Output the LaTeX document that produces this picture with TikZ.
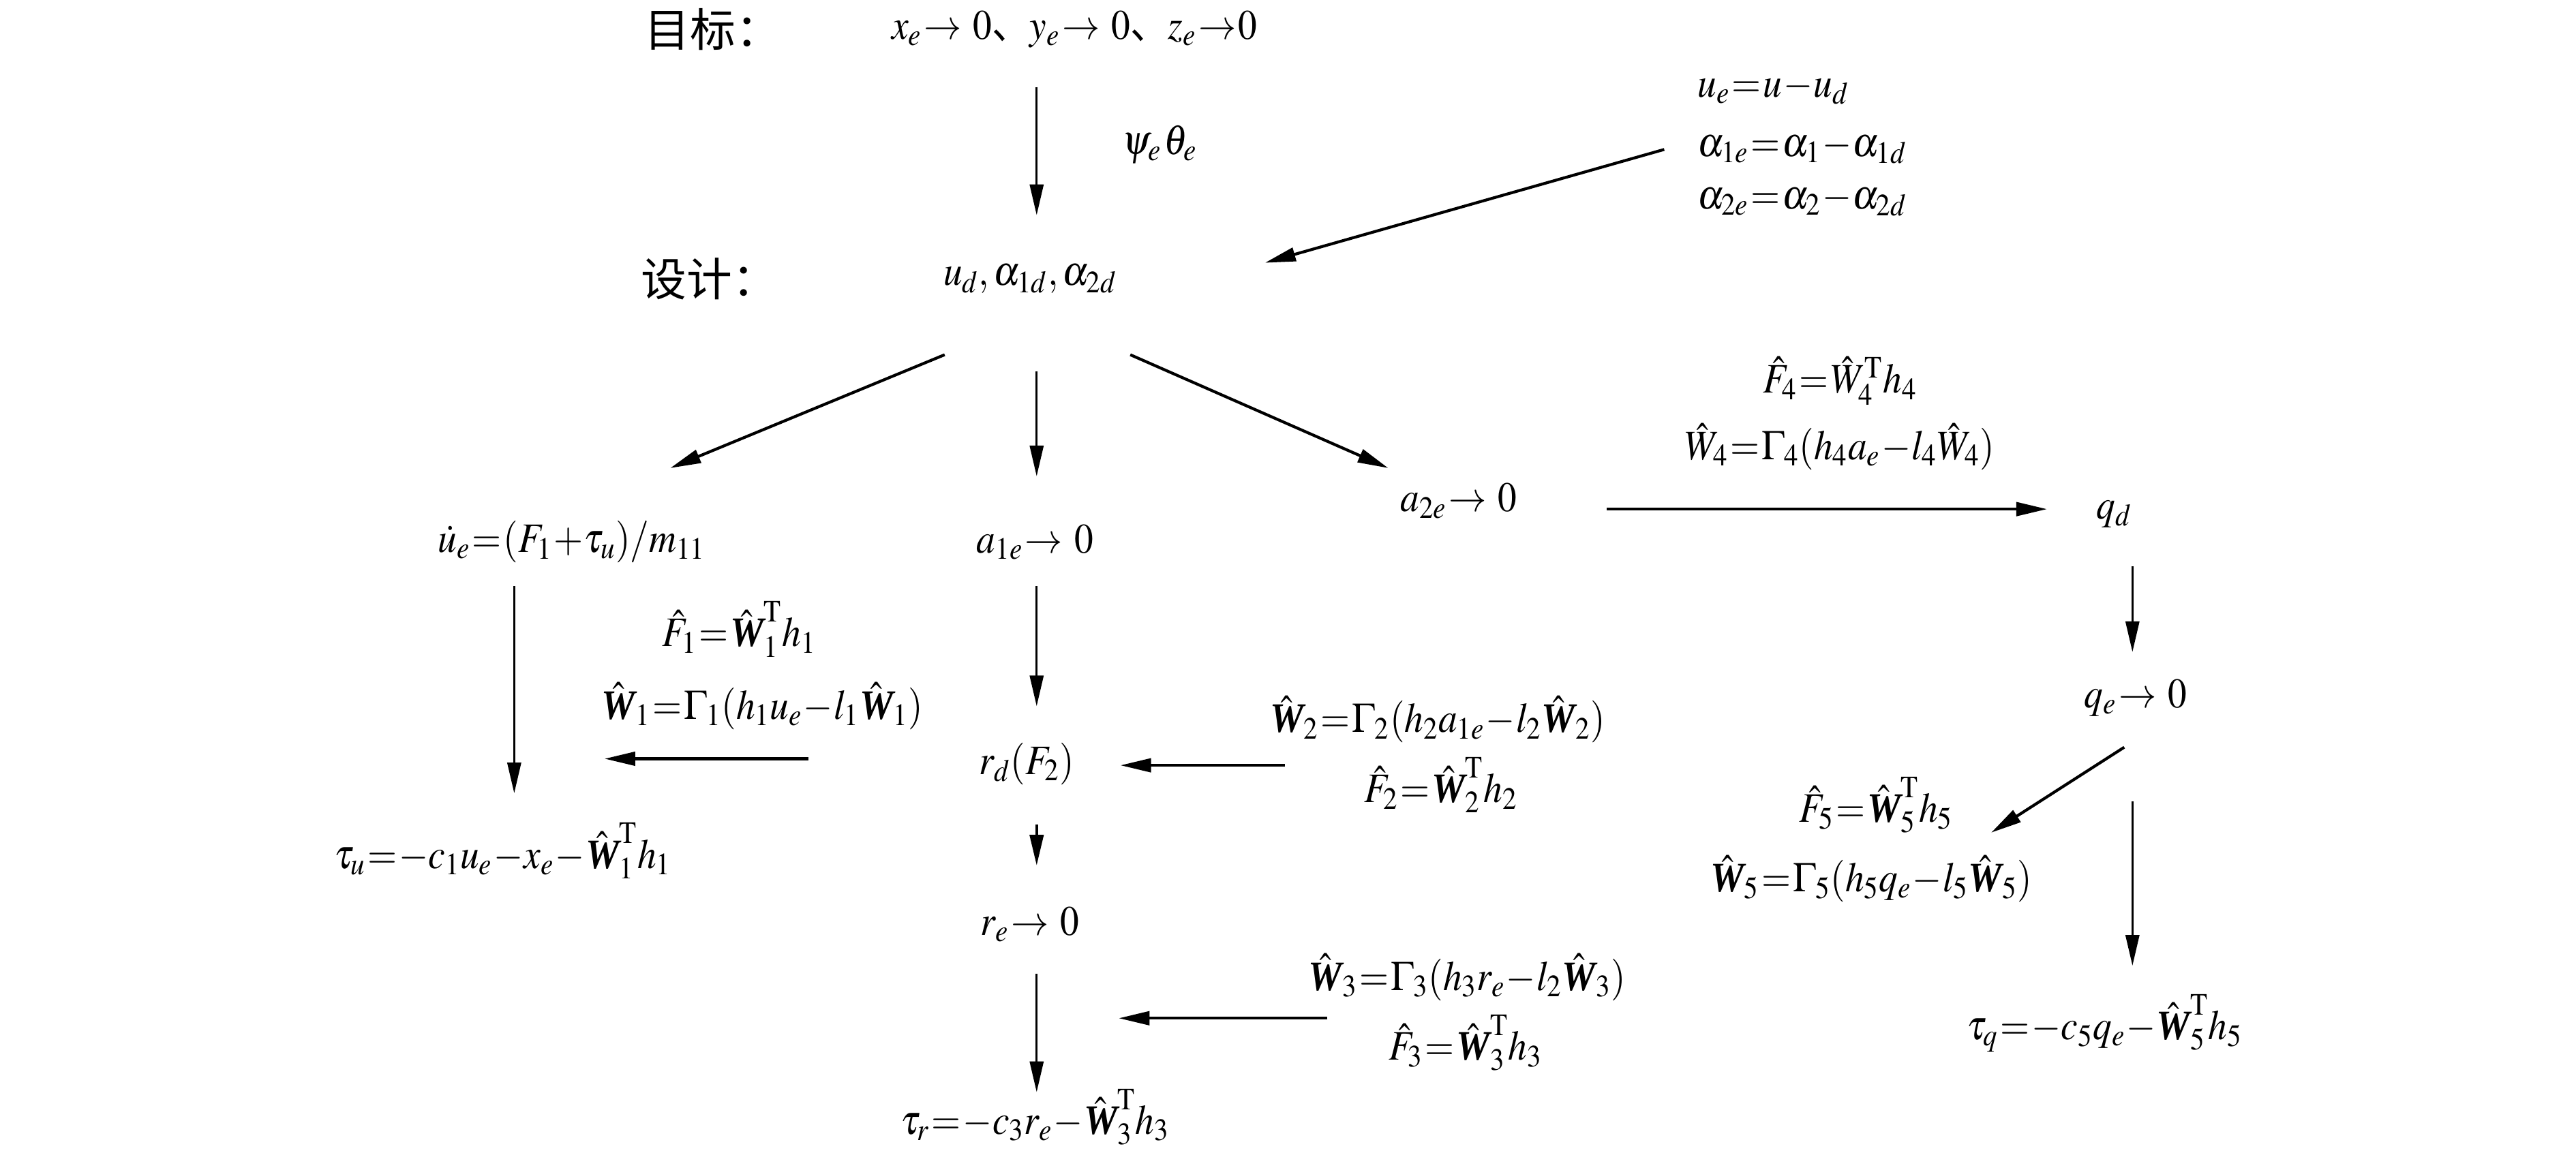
\documentclass[tikz,border=0pt]{standalone}
\usepackage{amsmath}
\usepackage{graphicx}
\usepackage{mathptmx}
\usepackage{fontspec}
\setmainfont{Liberation Serif}
\newfontfamily\cjk{Noto Sans CJK SC}
\usetikzlibrary{arrows.meta,calc}
\newcommand{\bW}{\text{\bfseries\itshape W}}
\newcommand{\Wh}{\hat{\bW}}
\newcommand{\myT}{^{\mathrm{T}}}
\newcommand{\sq}[1]{\scalebox{0.9}[1]{$#1$}}
\AtBeginDocument{\thickmuskip=1mu\medmuskip=0.5mu}
\begin{document}
\begin{tikzpicture}[x=0.0241cm,y=-0.0241cm,
  every node/.style={inner sep=0pt,font=\fontsize{17.5}{20}\selectfont},
  cn/.style={font=\cjk\fontsize{19}{21}\selectfont},
  arr/.style={-{Triangle[length=0.45cm,width=0.2cm]},line width=1.2pt},
  thinarr/.style={arr,line width=0.9pt}]
\useasboundingbox (0,0) rectangle (1568,703);
% row 1
\node[cn] (glbl) at (434,18) {目标：};
\node (goal) at (654,18) {\scalebox{0.9}[1]{$x_e\to\ 0${\cjk 、}$y_e\to\ 0${\cjk 、}$z_e\to 0$}};
\node (psi) at (706,88) {\sq{\psi_e\;\theta_e}};
% row 2
\node[cn] (dlbl) at (432,170) {设计：};
\node (ud) at (627,170) {\sq{u_d,\alpha_{1d},\alpha_{2d}}};
\node[anchor=west] (e1) at (1033,54) {\sq{u_e=u-u_d}};
\node[anchor=west] (e2) at (1033,90) {\sq{\alpha_{1e}=\alpha_1-\alpha_{1d}}};
\node[anchor=west] (e3) at (1033,122) {\sq{\alpha_{2e}=\alpha_2-\alpha_{2d}}};
% row 3
\node (due) at (348,330) {\sq{\dot u_e=(F_1+\tau_u)/m_{11}}};
\node (a1e) at (630,330) {\sq{a_{1e}\to\ 0}};
\node (a2e) at (888,305) {\sq{a_{2e}\to\ 0}};
\node (f4) at (1120,232) {\sq{\hat F_4=\hat W_4\myT h_4}};
\node (w4) at (1120,272) {\sq{\hat W_4=\Gamma_4(h_4a_e-l_4\hat W_4)}};
\node (qd) at (1287,313) {\sq{q_d}};
% left column
\node (f1) at (450,383) {\sq{\hat F_1=\Wh_1\myT h_1}};
\node (w1) at (464,430) {\sq{\Wh_1=\Gamma_1(h_1u_e-l_1\Wh_1)}};
\node (tauu) at (306,518) {\sq{\tau_u=-c_1u_e-x_e-\Wh_1\myT h_1}};
% middle column
\node (rd) at (625,465) {\sq{r_d(F_2)}};
\node (w2) at (875,438) {\sq{\Wh_2=\Gamma_2(h_2a_{1e}-l_2\Wh_2)}};
\node (f2) at (877,478) {\sq{\hat F_2=\Wh_2\myT h_2}};
\node (re) at (627,563) {\sq{r_e\to\ 0}};
\node (w3) at (893,595) {\sq{\Wh_3=\Gamma_3(h_3r_e-l_2\Wh_3)}};
\node (f3) at (892,635) {\sq{\hat F_3=\Wh_3\myT h_3}};
\node (taur) at (630,680) {\sq{\tau_r=-c_3r_e-\Wh_3\myT h_3}};
% right column
\node (qe) at (1300,425) {\sq{q_e\to\ 0}};
\node (f5) at (1142,490) {\sq{\hat F_5=\Wh_5\myT h_5}};
\node (w5) at (1139,535) {\sq{\Wh_5=\Gamma_5(h_5q_e-l_5\Wh_5)}};
\node (tauq) at (1281,623) {\sq{\tau_q=-c_5q_e-\Wh_5\myT h_5}};
% connectors
\draw[thinarr] ($(goal)+(-23,35)$) -- ($(ud)+(4,-39)$);
\draw[arr] ($(e2.west)+(-20,1)$) -- ($(ud)+(143,-10)$);
\draw[arr] ($(ud)+(-52,46)$) -- ($(due)+(60,-45)$);
\draw[thinarr] ($(ud)+(4,56)$) -- ($(a1e)+(1,-40)$);
\draw[arr] ($(ud)+(61,46)$) -- ($(a2e)+(-43,-20)$);
\draw[arr] ($(a2e)+(90,5)$) -- ($(qd)+(-41,-3)$);
\draw[thinarr] ($(due)+(-35,27)$) -- ($(tauu)+(7,-35)$);
\draw[arr] ($(w1)+(28,32)$) -- ($(w1)+(-96,32)$);
\draw[thinarr] ($(a1e)+(1,27)$) -- ($(rd)+(6,-35)$);
\draw[arr] ($(f2)+(-95,-12)$) -- ($(rd)+(57,1)$);
\draw[arr] ($(rd)+(6,37)$) -- ($(re)+(4,-36)$);
\draw[thinarr] ($(re)+(4,30)$) -- ($(taur)+(1,-15)$);
\draw[arr] ($(w3)+(-85,25)$) -- ($(re)+(54,57)$);
\draw[thinarr] ($(qd)+(11,32)$) -- ($(qe)+(-2,-28)$);
\draw[arr] ($(qe)+(-7,30)$) -- ($(f5)+(70,17)$);
\draw[thinarr] ($(qe)+(-2,63)$) -- ($(tauq)+(17,-35)$);
\end{tikzpicture}
\end{document}
